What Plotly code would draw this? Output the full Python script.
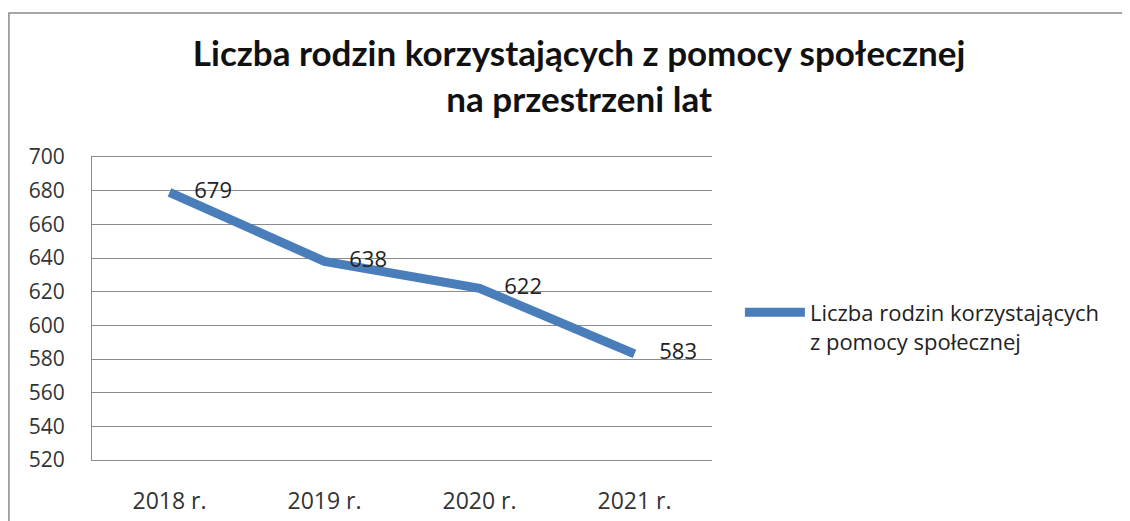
import plotly.graph_objects as go

categories = ["2018 r.", "2019 r.", "2020 r.", "2021 r."]
values = [679, 638, 622, 583]
series_name = "Liczba rodzin korzystających<br>z pomocy społecznej"
title_text = "<b>Liczba rodzin korzystających z pomocy społecznej<br>na przestrzeni lat</b>"
y_ticks = list(range(520, 701, 20))

FONT = "Open Sans"

fig = go.Figure()
fig.add_trace(go.Scatter(
    x=categories, y=values, name=series_name,
    mode="lines+markers+text",
    text=[str(v) for v in values],
    textposition="middle right",
    textfont=dict(family=FONT, size=22, color="#222222"),
    line=dict(color="#4a7ebb", width=9),
    marker=dict(size=38, color="rgba(0,0,0,0)"),
    cliponaxis=False,
))

# the page body adds an 8px offset, so the figure is drawn 8px smaller
fig.update_layout(
    width=1122, height=513,
    margin=dict(l=84, r=418, t=149, b=61),
    paper_bgcolor="white", plot_bgcolor="white",
    title=dict(text=title_text, x=0.509, xanchor="center", y=0.886, yanchor="top",
               font=dict(family="Lato", size=35, color="#111111")),
    showlegend=True,
    legend=dict(x=1.045, xanchor="left", y=0.556, yanchor="top", valign="top",
                font=dict(family=FONT, size=22, color="#222222"),
                itemwidth=60, bgcolor="rgba(0,0,0,0)"),
    xaxis=dict(showgrid=False, showline=True, mirror=True, linecolor="#8c8c8c",
               linewidth=1, zeroline=False, automargin=False,
               range=[-0.5, 3.5],
               tickfont=dict(family=FONT, size=23, color="#333333"),
               ticks="", ticklabelstandoff=20),
    yaxis=dict(range=[520, 700], tickvals=y_ticks, showgrid=True,
               gridcolor="#8c8c8c", gridwidth=1, showline=True,
               linecolor="#8c8c8c", linewidth=1, zeroline=False, ticks="",
               automargin=False,
               tickfont=dict(family=FONT, size=21, color="#333333"),
               ticklabelstandoff=22),
    shapes=[dict(type="rect", xref="paper", yref="paper",
                 x0=-0.134, y0=-0.25, x1=1.72, y1=1.475,
                 line=dict(color="#8a8a8a", width=1.5), layer="below")],
)

fig.write_html("out.html")
